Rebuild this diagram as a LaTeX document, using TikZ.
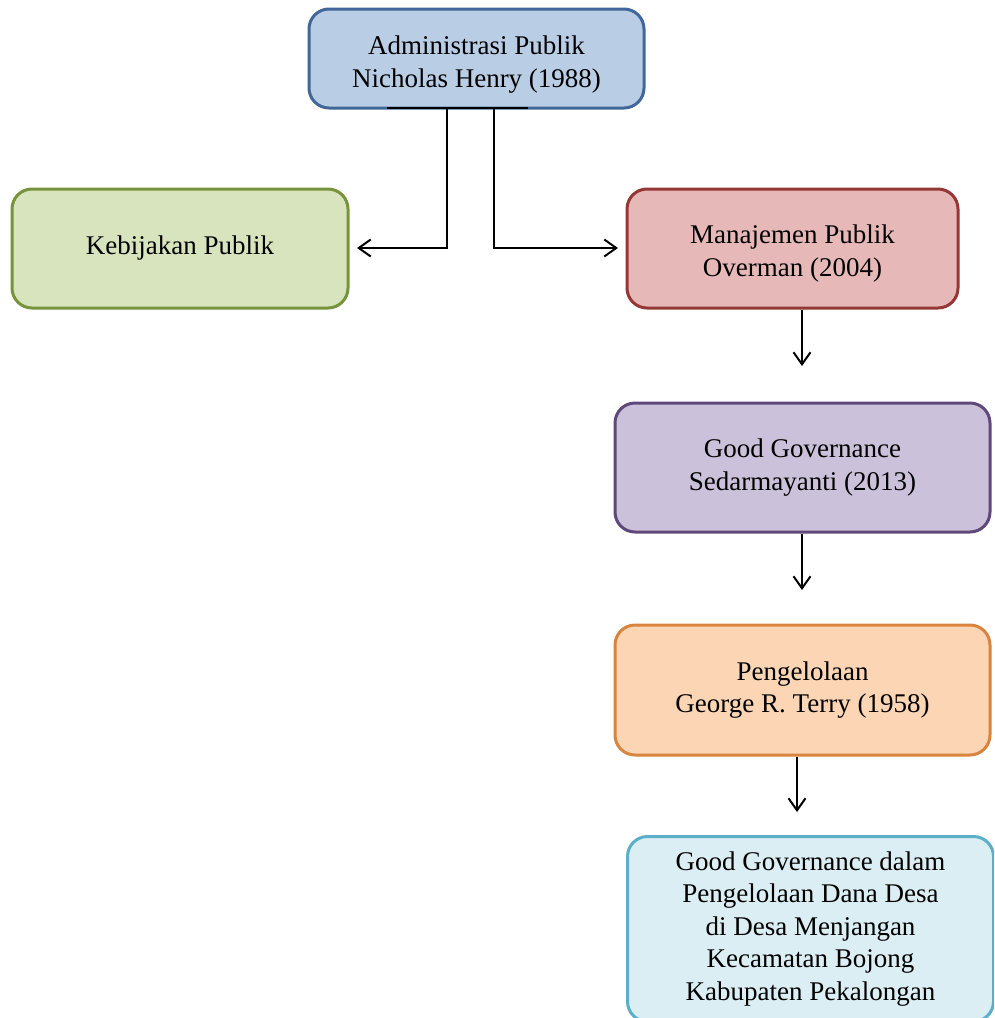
\documentclass[tikz,border=0pt]{standalone}
\usepackage{fontspec}
\setmainfont{Liberation Serif}
\usetikzlibrary{arrows.meta}
\definecolor{blueF}{HTML}{B9CDE5}\definecolor{blueD}{HTML}{41679A}
\definecolor{greenF}{HTML}{D7E4BD}\definecolor{greenD}{HTML}{77933C}
\definecolor{redF}{HTML}{E6B9B8}\definecolor{redD}{HTML}{953735}
\definecolor{purF}{HTML}{CCC1DA}\definecolor{purD}{HTML}{5F497A}
\definecolor{oraF}{HTML}{FCD5B5}\definecolor{oraD}{HTML}{D9843E}
\definecolor{cyaF}{HTML}{DBEEF4}\definecolor{cyaD}{HTML}{5BAFC8}
\newcommand{\topgap}[1]{\rule{0pt}{#1}}
\tikzset{
  box/.style={rounded corners=20pt, line width=3pt, align=center, inner sep=0pt,
    font=\fontsize{27}{32.5}\selectfont},
  conn/.style={line width=2pt, draw=black},
  arr/.style={conn, -{Straight Barb[length=12pt,width=17pt,line width=2pt]}},
}
\begin{document}
\begin{tikzpicture}[x=1pt,y=-1pt]
\useasboundingbox (0,0) rectangle (994,1018);
\clip (0,0) rectangle (994,1018);
\node[box, fill=blueF, draw=blueD, minimum width=335pt, minimum height=99pt] (ap) at (476.5,58.5)
  {\topgap{31pt}Administrasi Publik\\Nicholas Henry (1988)};
\node[box, fill=greenF, draw=greenD, minimum width=336pt, minimum height=119pt] (kp) at (180,248.5)
  {Kebijakan Publik};
\node[box, fill=redF, draw=redD, minimum width=331pt, minimum height=119pt] (mp) at (792.5,248.5)
  {\topgap{29pt}Manajemen Publik\\Overman (2004)};
\node[box, fill=purF, draw=purD, minimum width=375pt, minimum height=129pt] (gg) at (802.5,467.5)
  {\topgap{12pt}Good Governance\\Sedarmayanti (2013)};
\node[box, fill=oraF, draw=oraD, minimum width=375pt, minimum height=130pt] (pg) at (802.5,690)
  {\topgap{12pt}Pengelolaan\\George R. Terry (1958)};
\node[box, fill=cyaF, draw=cyaD, minimum width=366pt, minimum height=185pt] (gd) at (810.5,929)
  {Good Governance dalam\\Pengelolaan Dana Desa\\di Desa Menjangan\\Kecamatan Bojong\\Kabupaten Pekalongan};
% connectors
\coordinate (j1) at (387,108);
\coordinate (j2) at (528,108);
\coordinate (lx) at (447,108);
\coordinate (rx) at (494,108);
\coordinate (lt) at (357,248);
\coordinate (rt) at (618,248);
\coordinate (e1) at (802,366);
\coordinate (e2) at (802,590);
\coordinate (e3) at (797,812);
\draw[conn] (j1) -- (j2);
\draw[arr] (lx) |- (lt);
\draw[arr] (rx) |- (rt);
\draw[arr] (mp.south -| e1) -- (e1);
\draw[arr] (gg.south -| e2) -- (e2);
\draw[arr] (pg.south -| e3) -- (e3);
\end{tikzpicture}
\end{document}
